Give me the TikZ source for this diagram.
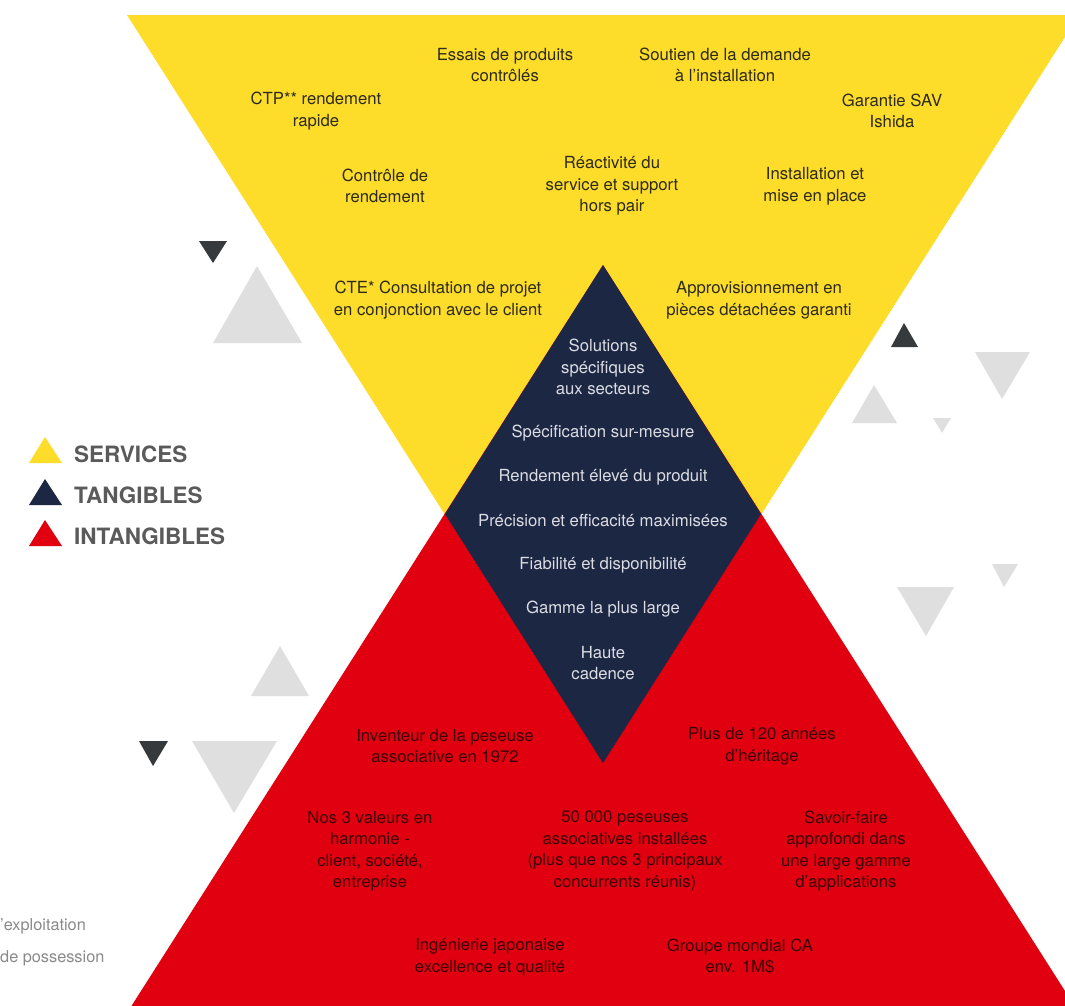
\documentclass[tikz,border=0pt]{standalone}
\usepackage{fontspec}
\setmainfont{TeX Gyre Heros}
\definecolor{ylw}{HTML}{FDDD2A}
\definecolor{navy}{HTML}{1C2744}
\definecolor{rd}{HTML}{E0000F}
\definecolor{lgray}{HTML}{E0DFDF}
\definecolor{dgray}{HTML}{373A3C}
\definecolor{legtxt}{HTML}{5A5A5A}
\definecolor{ytxt}{HTML}{2D2A1E}
\definecolor{ntxt}{HTML}{DCDDE2}
\definecolor{rtxt}{HTML}{3D0008}
\definecolor{sidetxt}{HTML}{8A8A8A}
\begin{document}
\begin{tikzpicture}[x=1pt,y=-1pt,
  lbl/.style={align=center,inner sep=0pt,font=\fontsize{16.7}{21.5}\selectfont},
  ylbl/.style={lbl,text=ytxt},
  nlbl/.style={lbl,text=ntxt},
  rlbl/.style={lbl,text=rtxt},
  leg/.style={anchor=west,inner sep=0pt,text=legtxt,font=\fontsize{22.5}{26}\selectfont\bfseries},
  side/.style={anchor=west,inner sep=0pt,text=sidetxt,font=\fontsize{16.3}{19}\selectfont},
  deco/.style={fill=lgray},
  decod/.style={fill=dgray}]
\useasboundingbox (0,0) rectangle (1065,1005);
\fill[white] (0,0) rectangle (1065,1005);
% big triangles
\coordinate (yl) at (127,15);
\coordinate (yr) at (1079,15);
\coordinate (yb) at (603,763);
\coordinate (rt) at (603,265);
\coordinate (rl) at (127,1013);
\coordinate (rr) at (1079,1013);
\coordinate (dl) at (445,514);
\coordinate (dr) at (761,514);
\fill[ylw] (yl) -- (yr) -- (yb) -- cycle;
\fill[rd] (rt) -- (rl) -- (rr) -- cycle;
\fill[navy] (rt) -- (dr) -- (yb) -- (dl) -- cycle;
% decorative triangles
\fill[decod] (199,241) -- (227,241) -- (213,263) -- cycle;
\fill[deco] (257,266) -- (302,343) -- (213,343) -- cycle;
\fill[decod] (904,323) -- (918,347) -- (891,347) -- cycle;
\fill[deco] (975,352) -- (1030,352) -- (1002,399) -- cycle;
\fill[deco] (874,385) -- (897,423) -- (852,423) -- cycle;
\fill[deco] (933,418) -- (951,418) -- (942,433) -- cycle;
\fill[deco] (897,587) -- (954,587) -- (926,636) -- cycle;
\fill[deco] (992,564) -- (1018,564) -- (1004,587) -- cycle;
\fill[deco] (280,646) -- (309,696) -- (251,696) -- cycle;
\fill[decod] (139,741) -- (168,741) -- (153,766) -- cycle;
\fill[deco] (192,741) -- (277,741) -- (234,813) -- cycle;
% legend
\fill[ylw] (45,437) -- (62,463) -- (29,463) -- cycle;
\fill[navy] (45,479) -- (62,505) -- (29,505) -- cycle;
\fill[rd] (45,520) -- (62,546) -- (29,546) -- cycle;
\node[leg] (lserv) at (74,454) {SERVICES};
\node[leg] (ltang) at (74,495) {TANGIBLES};
\node[leg] (lintang) at (74,536) {INTANGIBLES};
% side text
\node[side] (s1) at (0,926) {’exploitation};
\node[side] (s2) at (0,958) {de possession};
% yellow texts
\node[ylbl] (y1) at (505,65) {Essais de produits\\contrôlés};
\node[ylbl] (y2) at (725,65) {Soutien de la demande\\à l’installation};
\node[ylbl] (y3) at (316,111) {CTP** rendement\\rapide};
\node[ylbl] (y4) at (892,111) {Garantie SAV\\Ishida};
\node[ylbl] (y5) at (385,186) {Contrôle de\\rendement};
\node[ylbl] (y6) at (612,186) {Réactivité du\\service et support\\hors pair};
\node[ylbl] (y7) at (815,186) {Installation et\\mise en place};
\node[ylbl] (y8) at (438,300) {CTE* Consultation de projet\\en conjonction avec le client};
\node[ylbl] (y9) at (759,300) {Approvisionnement en\\pièces détachées garanti};
% navy texts
\node[nlbl] (n1) at (603,367) {Solutions\\spécifiques\\aux secteurs};
\node[nlbl] (n2) at (603,433) {Spécification sur-mesure};
\node[nlbl] (n3) at (603,477) {Rendement élevé du produit};
\node[nlbl] (n4) at (603,521) {Précision et efficacité maximisées};
\node[nlbl] (n5) at (603,565) {Fiabilité et disponibilité};
\node[nlbl] (n6) at (603,609) {Gamme la plus large};
\node[nlbl] (n7) at (603,663) {Haute\\cadence};
% red texts
\node[rlbl] (r1) at (445,746) {Inventeur de la peseuse\\associative en 1972};
\node[rlbl] (r2) at (762,746) {Plus de 120 années\\d’héritage};
\node[rlbl] (r3) at (370,851) {Nos 3 valeurs en\\harmonie -\\client, société,\\entreprise};
\node[rlbl] (r4) at (625,851) {50 000 peseuses\\associatives installées\\(plus que nos 3 principaux\\concurrents réunis)};
\node[rlbl] (r5) at (846,851) {Savoir-faire\\approfondi dans\\une large gamme\\d’applications};
\node[rlbl] (r6) at (490,957) {Ingénierie japonaise\\excellence et qualité};
\node[rlbl] (r7) at (740,957) {Groupe mondial CA\\env. 1M\$};
\end{tikzpicture}
\end{document}
